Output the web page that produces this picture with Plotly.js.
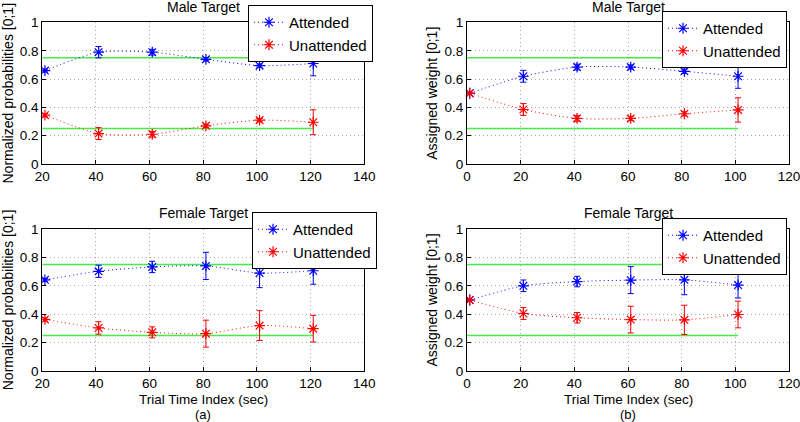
<!DOCTYPE html>
<html>
<head>
<meta charset="utf-8">
<script src="https://cdn.plot.ly/plotly-3.0.1.min.js"></script>
<style>html,body{margin:0;padding:0;background:#fff;}#chart{width:800px;height:422px;}</style>
</head>
<body>
<div id="chart"></div>
<script>
// ---- data ----
const xLeft = [21, 41, 61, 81, 101, 121];
const xRight = [1, 21, 41, 61, 81, 101];

const maleProbAtt = [0.66, 0.79, 0.79, 0.74, 0.695, 0.71];
const maleProbAttErr = [0.01, 0.04, 0.02, 0.012, 0.012, 0.087];
const maleProbUnatt = [0.345, 0.215, 0.21, 0.27, 0.31, 0.295];
const maleProbUnattErr = [0.012, 0.042, 0.02, 0.012, 0.012, 0.088];

const maleWeightAtt = [0.5, 0.62, 0.685, 0.685, 0.655, 0.62];
const maleWeightAttErr = [0, 0.042, 0.02, 0.015, 0.015, 0.085];
const maleWeightUnatt = [0.5, 0.385, 0.322, 0.322, 0.355, 0.382];
const maleWeightUnattErr = [0, 0.042, 0.02, 0.015, 0.015, 0.086];

const femaleProbAtt = [0.642, 0.702, 0.733, 0.74, 0.69, 0.706];
const femaleProbAttErr = [0.01, 0.043, 0.04, 0.096, 0.103, 0.095];
const femaleProbUnatt = [0.363, 0.303, 0.272, 0.263, 0.32, 0.298];
const femaleProbUnattErr = [0.012, 0.044, 0.039, 0.095, 0.105, 0.094];

const femaleWeightAtt = [0.5, 0.6, 0.63, 0.64, 0.642, 0.605];
const femaleWeightAttErr = [0, 0.041, 0.037, 0.095, 0.105, 0.091];
const femaleWeightUnatt = [0.5, 0.405, 0.375, 0.362, 0.36, 0.398];
const femaleWeightUnattErr = [0, 0.042, 0.037, 0.094, 0.103, 0.094];

const targetLevels = [0.75, 0.25];
const seriesNames = ['Attended', 'Unattended'];
const panelTitles = ['Male Target', 'Male Target', 'Female Target', 'Female Target'];
const xAxisTitle = 'Trial Time Index (sec)';
const panelLabels = ['(a)', '(b)'];
const leftRange = [20, 140];
const rightRange = [0, 120];

// ---- build ----
const FONT = 'Liberation Sans, Arial, sans-serif';
const BLUE = 'rgb(0,0,255)';
const RED = 'rgb(255,0,0)';
const GREEN = 'rgb(70,235,70)';

const panels = [
  {xa:'x', ya:'y', x:xLeft, att:maleProbAtt, attE:maleProbAttErr, un:maleProbUnatt, unE:maleProbUnattErr, xmin:leftRange[0], legend:'legend'},
  {xa:'x2', ya:'y2', x:xRight, att:maleWeightAtt, attE:maleWeightAttErr, un:maleWeightUnatt, unE:maleWeightUnattErr, xmin:rightRange[0], legend:'legend2'},
  {xa:'x3', ya:'y3', x:xLeft, att:femaleProbAtt, attE:femaleProbAttErr, un:femaleProbUnatt, unE:femaleProbUnattErr, xmin:leftRange[0], legend:'legend3'},
  {xa:'x4', ya:'y4', x:xRight, att:femaleWeightAtt, attE:femaleWeightAttErr, un:femaleWeightUnatt, unE:femaleWeightUnattErr, xmin:rightRange[0], legend:'legend4'}
];

const traces = [];
panels.forEach(p => {
  const xmax = p.x[p.x.length - 1];
  targetLevels.forEach(lv => {
    traces.push({x:[p.xmin, xmax], y:[lv, lv], xaxis:p.xa, yaxis:p.ya, mode:'lines',
      line:{color:GREEN, width:1.5}, showlegend:false, hoverinfo:'skip'});
  });
  [[p.att, p.attE, BLUE, seriesNames[0]], [p.un, p.unE, RED, seriesNames[1]]].forEach(([v, e, c, n]) => {
    traces.push({x:p.x, y:v, xaxis:p.xa, yaxis:p.ya, name:n, legend:p.legend,
      mode:'lines+markers',
      line:{color:c, width:1, dash:'1px,3px', shape:'spline', smoothing:0.7},
      marker:{symbol:'asterisk-open', size:9, color:c, line:{color:c, width:1.2}},
      error_y:{type:'data', array:e, visible:true, color:c, thickness:1, width:3}});
  });
});

const xDomL = [0.0528, 0.4553];
const xDomR = [0.5838, 0.9863];
const yDomT = [0.6114, 0.9467];
const yDomB = [0.1209, 0.4573];

function xax(dom, range, anchor) {
  return {domain:dom, range:range, anchor:anchor, dtick:20, tick0:0,
    showline:true, mirror:true, linecolor:'#000', linewidth:1,
    ticks:'inside', ticklen:4, tickcolor:'#000', ticklabeloverflow:'allow',
    showgrid:true, gridcolor:'#a8a8a8', griddash:'1px,3px', gridwidth:1, zeroline:false,
    tickfont:{family:FONT, size:13.5, color:'#000'}};
}
function yax(dom, anchor, title) {
  return {domain:dom, range:[0, 1], anchor:anchor, dtick:0.2,
    showline:true, mirror:true, linecolor:'#000', linewidth:1,
    ticks:'inside', ticklen:4, tickcolor:'#000',
    showgrid:true, gridcolor:'#a8a8a8', griddash:'1px,3px', gridwidth:1, zeroline:false,
    tickfont:{family:FONT, size:13.5, color:'#000'},
    title:{text:title, font:{family:FONT, size:14, color:'#000'}, standoff:3}};
}
function leg(x, y) {
  return {x:x, y:y, xanchor:'left', yanchor:'top', bgcolor:'#fff', bordercolor:'#000', borderwidth:1,
    font:{family:FONT, size:15, color:'#000'}, itemwidth:30, tracegroupgap:0};
}

const cL = 0.5*(xDomL[0]+xDomL[1]);
const cR = 0.5*(xDomR[0]+xDomR[1]);
const layout = {
  width:800, height:422, margin:{l:0, r:0, t:0, b:0}, paper_bgcolor:'#fff', plot_bgcolor:'#fff',
  showlegend:true,
  xaxis: xax(xDomL, leftRange, 'y'),
  yaxis: yax(yDomT, 'x', 'Normalized probabilities [0;1]'),
  xaxis2: xax(xDomR, rightRange, 'y2'),
  yaxis2: yax(yDomT, 'x2', 'Assigned weight [0;1]'),
  xaxis3: xax(xDomL, leftRange, 'y3'),
  yaxis3: yax(yDomB, 'x3', 'Normalized probabilities [0;1]'),
  xaxis4: xax(xDomR, rightRange, 'y4'),
  yaxis4: yax(yDomB, 'x4', 'Assigned weight [0;1]'),
  legend: leg(248/800, 1 - 5/422),
  legend2: leg(662/800, 1 - 11/422),
  legend3: leg(252/800, 1 - 212/422),
  legend4: leg(662/800, 1 - 218/422),
  annotations: [
    {text:panelTitles[0], x:cL, y:1 - 7/422},
    {text:panelTitles[1], x:cR, y:1 - 7/422},
    {text:panelTitles[2], x:cL, y:1 - 213/422},
    {text:panelTitles[3], x:cR, y:1 - 213/422},
    {text:xAxisTitle, x:cL, y:1 - 399/422, fs:13.5},
    {text:xAxisTitle, x:cR, y:1 - 399/422, fs:13.5},
    {text:panelLabels[0], x:cL, y:1 - 414.5/422, fs:13},
    {text:panelLabels[1], x:cR, y:1 - 414.5/422, fs:13}
  ].map(a => {
    const fs = a.fs || 14; delete a.fs;
    return Object.assign(a, {xref:'paper', yref:'paper', xanchor:'center', yanchor:'middle',
      showarrow:false, borderpad:0, font:{family:FONT, size:fs, color:'#000'}});
  })
};

Plotly.newPlot('chart', traces, layout, {staticPlot:true, displayModeBar:false});
</script>
</body>
</html>
